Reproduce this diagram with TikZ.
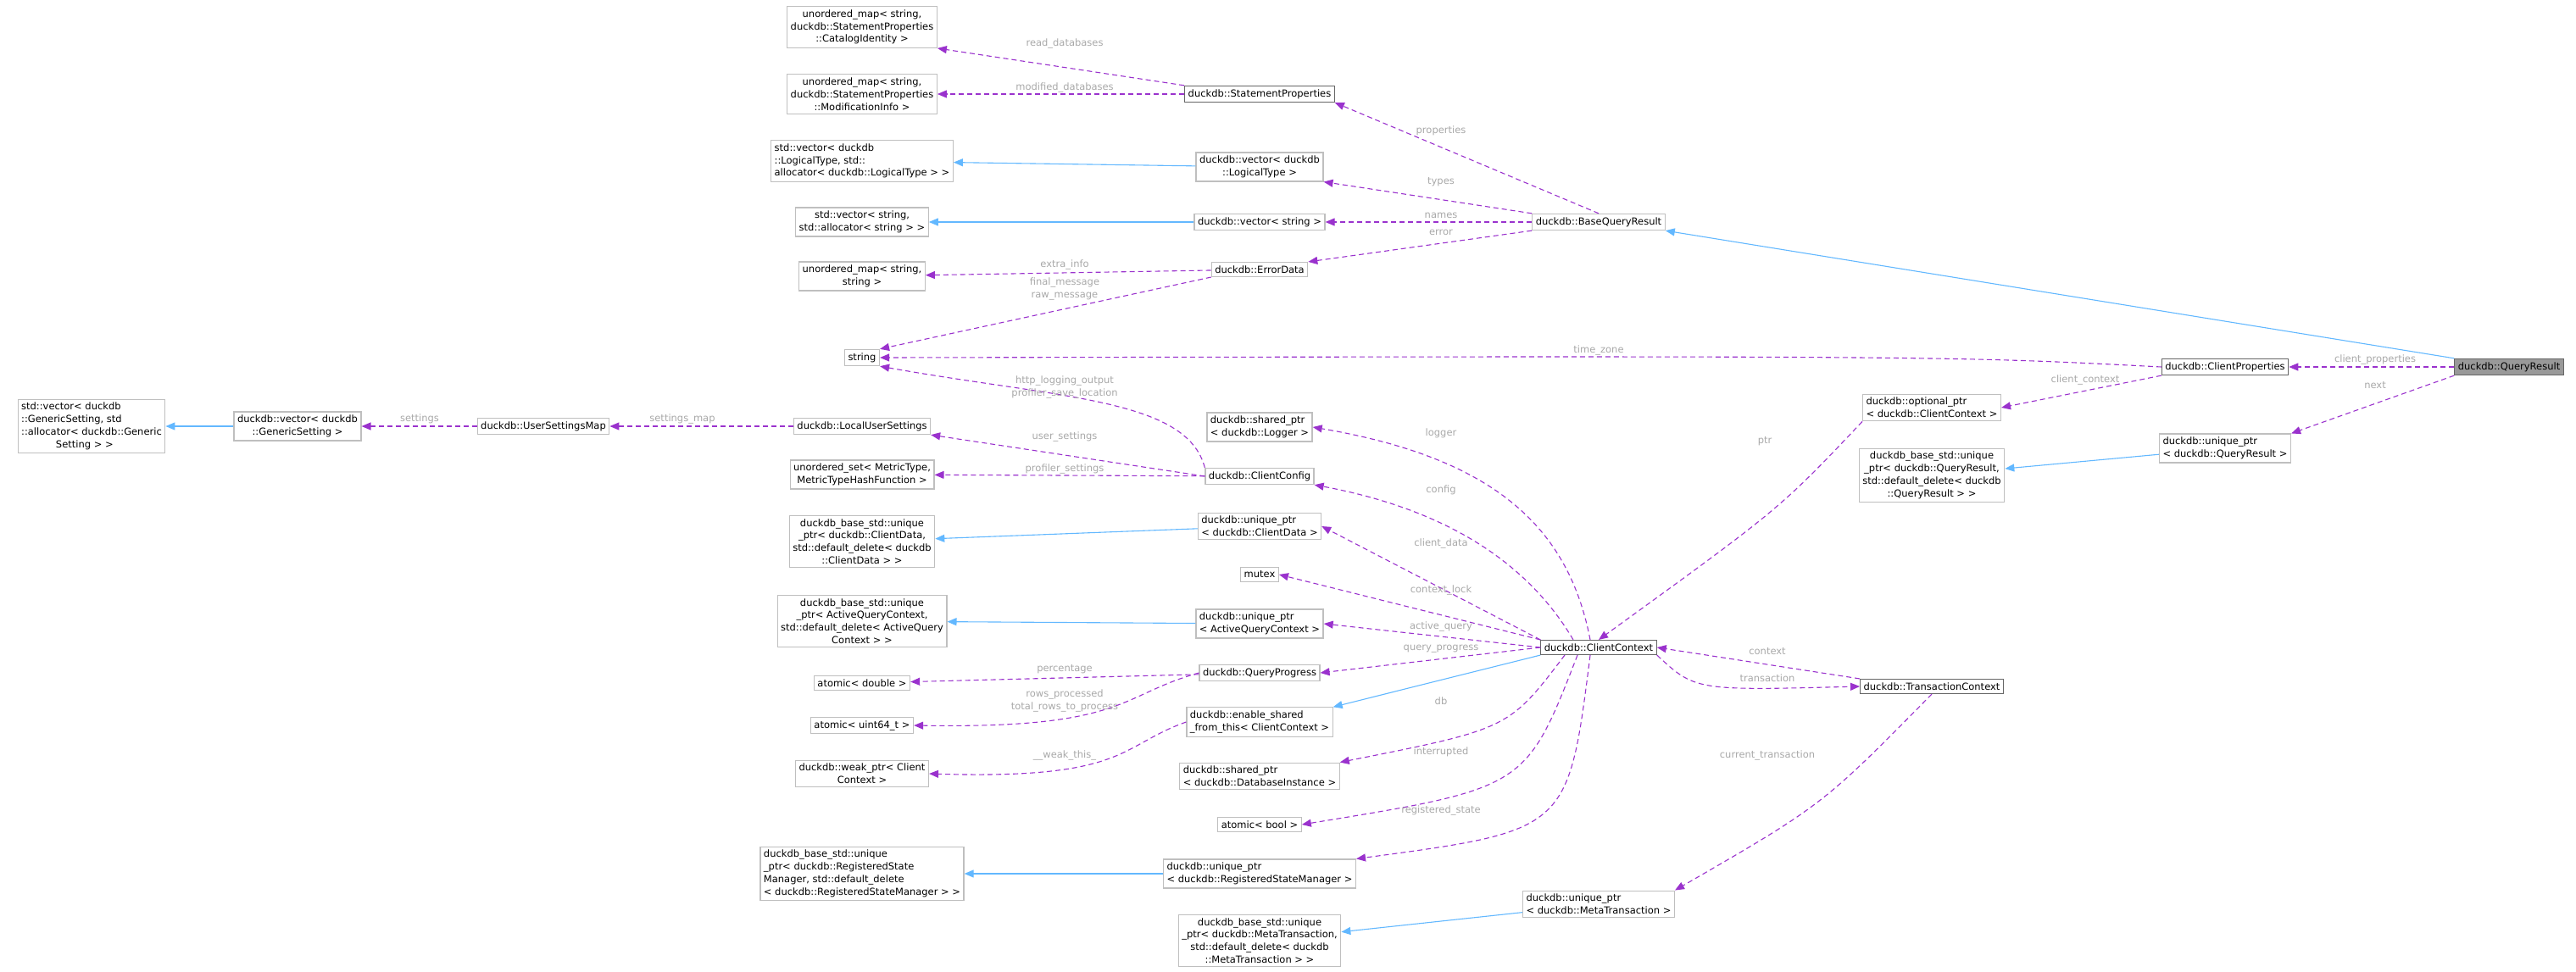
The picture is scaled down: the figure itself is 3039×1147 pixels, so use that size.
\documentclass[tikz,border=0pt]{standalone}
\usepackage{fontspec}
\setmainfont{DejaVu Sans}
\usepackage{xcolor}
\usetikzlibrary{arrows.meta,positioning,calc}
\definecolor{edgepurple}{HTML}{9A32CD}
\definecolor{inhblue}{HTML}{63B8FF}
\definecolor{lblgray}{HTML}{A8A8A8}
\definecolor{boxgray}{HTML}{BFBFBF}
\definecolor{boxdark}{HTML}{666666}
\begin{document}
\begin{tikzpicture}[
  x=1pt, y=-1pt,
  every node/.style={font=\fontsize{11.5}{14.8}\selectfont},
  box/.style={rectangle, draw=boxgray, line width=1.2pt, fill=white, inner sep=4pt, align=center},
  boxl/.style={box, align=left},
  boxd/.style={box, draw=boxdark},
  lbl/.style={text=lblgray, inner sep=1pt, align=center},
  edge/.style={-{Triangle[length=11pt,width=9pt]}, edgepurple, dashed, dash pattern=on 6pt off 4pt, line width=1.1pt},
  inh/.style={-{Triangle[length=11pt,width=9pt]}, inhblue, line width=1.1pt}
]
\useasboundingbox (0,0) rectangle (3039,1147);

% Left column
\node[box] (catid) at (1017,32) {unordered\_map< string,\\duckdb::StatementProperties\\::CatalogIdentity >};
\node[box] (modinfo) at (1017,111) {unordered\_map< string,\\duckdb::StatementProperties\\::ModificationInfo >};
\node[boxl] (stdltype) at (1017,190) {std::vector< duckdb\\::LogicalType, std::\\allocator< duckdb::LogicalType > >};
\node[box] (stdstr) at (1017,262) {std::vector< string,\\std::allocator< string > >};
\node[box] (umap) at (1017,326) {unordered\_map< string,\\string >};
\node[box] (string) at (1017,422) {string};
\node[boxl] (stdgen) at (108,503) {std::vector< duckdb\\::GenericSetting, std\\::allocator< duckdb::Generic\\\hphantom{xxxxxx}Setting > >};
\node[box] (vecgen) at (351,503) {duckdb::vector< duckdb\\::GenericSetting >};
\node[box] (usermap) at (641,503) {duckdb::UserSettingsMap};
\node[box] (localset) at (1017,503) {duckdb::LocalUserSettings};
\node[box] (metricset) at (1017,560) {unordered\_set< MetricType,\\MetricTypeHashFunction >};
\node[box] (baseclient) at (1017,639) {duckdb\_base\_std::unique\\\_ptr< duckdb::ClientData,\\std::default\_delete< duckdb\\::ClientData > >};
\node[box] (baseactive) at (1017,733) {duckdb\_base\_std::unique\\\_ptr< ActiveQueryContext,\\std::default\_delete< ActiveQuery\\Context > >};
\node[box] (atomdbl) at (1017,806) {atomic< double >};
\node[box] (atomu64) at (1017,856) {atomic< uint64\_t >};
\node[box] (weakptr) at (1017,913) {duckdb::weak\_ptr< Client\\Context >};
\node[boxl] (basereg) at (1017,1031) {duckdb\_base\_std::unique\\\_ptr< duckdb::RegisteredState\\Manager, std::default\_delete\\< duckdb::RegisteredStateManager > >};

% Middle column
\node[boxd] (stmtprop) at (1486,111) {duckdb::StatementProperties};
\node[box] (vecltype) at (1486,197) {duckdb::vector< duckdb\\::LogicalType >};
\node[box] (vecstr) at (1486,262) {duckdb::vector< string >};
\node[box] (errdata) at (1486,318) {duckdb::ErrorData};
\node[boxl] (logger) at (1486,504) {duckdb::shared\_ptr\\< duckdb::Logger >};
\node[box] (cconfig) at (1486,562) {duckdb::ClientConfig};
\node[boxl] (uclient) at (1486,621) {duckdb::unique\_ptr\\< duckdb::ClientData >};
\node[box] (mutex) at (1486,678) {mutex};
\node[boxl] (uactive) at (1486,736) {duckdb::unique\_ptr\\< ActiveQueryContext >};
\node[box] (qprog) at (1486,794) {duckdb::QueryProgress};
\node[boxl] (enshared) at (1486,852) {duckdb::enable\_shared\\\_from\_this< ClientContext >};
\node[boxl] (dbinst) at (1486,916) {duckdb::shared\_ptr\\< duckdb::DatabaseInstance >};
\node[box] (atombool) at (1486,973) {atomic< bool >};
\node[boxl] (ureg) at (1486,1031) {duckdb::unique\_ptr\\< duckdb::RegisteredStateManager >};
\node[box] (basemeta) at (1486,1110) {duckdb\_base\_std::unique\\\_ptr< duckdb::MetaTransaction,\\std::default\_delete< duckdb\\::MetaTransaction > >};

% Right part
\node[box] (bqr) at (1886,262) {duckdb::BaseQueryResult};
\node[boxd] (cctx) at (1886,764) {duckdb::ClientContext};
\node[boxl] (umeta) at (1886,1067) {duckdb::unique\_ptr\\< duckdb::MetaTransaction >};
\node[boxd] (tctx) at (2279,810) {duckdb::TransactionContext};
\node[boxl] (optctx) at (2279,481) {duckdb::optional\_ptr\\< duckdb::ClientContext >};
\node[box] (baseqr) at (2279,561) {duckdb\_base\_std::unique\\\_ptr< duckdb::QueryResult,\\std::default\_delete< duckdb\\::QueryResult > >};
\node[boxd] (cprops) at (2625,433) {duckdb::ClientProperties};
\node[boxl] (uqr) at (2625,529) {duckdb::unique\_ptr\\< duckdb::QueryResult >};
\node[box, draw=boxdark, fill=black!40] (qr) at (2960,433) {duckdb::QueryResult};

% Inheritance
\draw[inh] (qr.north west) -- (bqr.south east);
\draw[inh] (vecltype) -- (stdltype);
\draw[inh] (vecstr) -- (stdstr);
\draw[inh] (vecgen) -- (stdgen);
\draw[inh] (uclient) -- (baseclient);
\draw[inh] (uactive) -- (baseactive);
\draw[inh] (cctx.south west) -- (enshared.north east);
\draw[inh] (ureg) -- (basereg);
\draw[inh] (umeta) -- (basemeta);
\draw[inh] (uqr) -- (baseqr);

% Members
\draw[edge] (stmtprop.north west) -- (catid.south east);
\draw[edge] (stmtprop) -- (modinfo);
\draw[edge] (bqr.north) -- (stmtprop.south east);
\draw[edge] (bqr.north west) -- (vecltype.south east);
\draw[edge] (bqr) -- (vecstr);
\draw[edge] (bqr.south west) -- (errdata.north east);
\draw[edge] (errdata) -- (umap);
\draw[edge] (errdata.south west) -- (string.north east);
\draw[edge] (cprops.west) .. controls (2300,420) .. (string.east);
\draw[edge] (cconfig.north west) .. controls (1400,470) and (1250,470) .. (string.south east);
\draw[edge] (localset) -- (usermap);
\draw[edge] (usermap) -- (vecgen);
\draw[edge] (cconfig.west) -- (localset.south east);
\draw[edge] (cconfig) -- (metricset);
\draw[edge] ($(cctx.north)+(-10,0)$) .. controls (1850,620) and (1760,540) .. (logger.east);
\draw[edge] ($(cctx.north)+(-30,0)$) .. controls (1800,660) and (1700,600) .. (cconfig.south east);
\draw[edge] (cctx.north west) -- (uclient.east);
\draw[edge] (cctx.north west) -- (mutex.east);
\draw[edge] (cctx.west) -- (uactive.east);
\draw[edge] (cctx.west) -- (qprog.east);
\draw[edge] (qprog) -- (atomdbl);
\draw[edge] (qprog.west) .. controls (1320,820) and (1330,860) .. (atomu64.east);
\draw[edge] (enshared.west) .. controls (1320,880) and (1330,920) .. (weakptr.east);
\draw[edge] ($(cctx.south)+(-40,0)$) .. controls (1780,860) .. (dbinst.north east);
\draw[edge] ($(cctx.south)+(-25,0)$) .. controls (1800,930) .. (atombool.east);
\draw[edge] ($(cctx.south)+(-10,0)$) .. controls (1850,980) .. (ureg.north east);
\draw[edge] (optctx.south west) .. controls (2100,600) .. (cctx.north);
\draw[edge] (cprops.south west) -- (optctx.east);
\draw[edge] (qr) -- (cprops);
\draw[edge] (qr.south west) -- (uqr.north east);
\draw[edge] (tctx.north west) -- (cctx.east);
\draw[edge] (cctx.south east) .. controls (2000,815) .. (tctx.west);
\draw[edge] (tctx.south) .. controls (2150,950) .. (umeta.north east);

% Labels
\node[lbl] (l1) at (1256,51) {read\_databases};
\node[lbl] (l2) at (1256,103) {modified\_databases};
\node[lbl] (l3) at (1700,154) {properties};
\node[lbl] (l4) at (1700,215) {types};
\node[lbl] (l5) at (1700,254) {names};
\node[lbl] (l6) at (1700,274) {error};
\node[lbl] (l7) at (1256,312) {extra\_info};
\node[lbl] (l8) at (1256,341) {final\_message\\raw\_message};
\node[lbl] (l9) at (1886,413) {time\_zone};
\node[lbl] (l10) at (1256,457) {http\_logging\_output\\profiler\_save\_location};
\node[lbl] (l11) at (805,494) {settings\_map};
\node[lbl] (l12) at (495,494) {settings};
\node[lbl] (l13) at (1256,515) {user\_settings};
\node[lbl] (l14) at (1256,553) {profiler\_settings};
\node[lbl] (l15) at (1700,511) {logger};
\node[lbl] (l16) at (1700,578) {config};
\node[lbl] (l17) at (1700,641) {client\_data};
\node[lbl] (l18) at (1700,696) {context\_lock};
\node[lbl] (l19) at (1700,739) {active\_query};
\node[lbl] (l20) at (1700,766) {query\_progress};
\node[lbl] (l21) at (1256,790) {percentage};
\node[lbl] (l22) at (1256,827) {rows\_processed\\total\_rows\_to\_process};
\node[lbl] (l23) at (1256,891) {\_\_weak\_this\_};
\node[lbl] (l24) at (1700,827) {db};
\node[lbl] (l25) at (1700,887) {interrupted};
\node[lbl] (l26) at (1700,956) {registered\_state};
\node[lbl] (l27) at (2082,521) {ptr};
\node[lbl] (l28) at (2460,448) {client\_context};
\node[lbl] (l29) at (2802,424) {client\_properties};
\node[lbl] (l30) at (2802,455) {next};
\node[lbl] (l31) at (2085,769) {context};
\node[lbl] (l32) at (2085,800) {transaction};
\node[lbl] (l33) at (2085,891) {current\_transaction};
\end{tikzpicture}
\end{document}
